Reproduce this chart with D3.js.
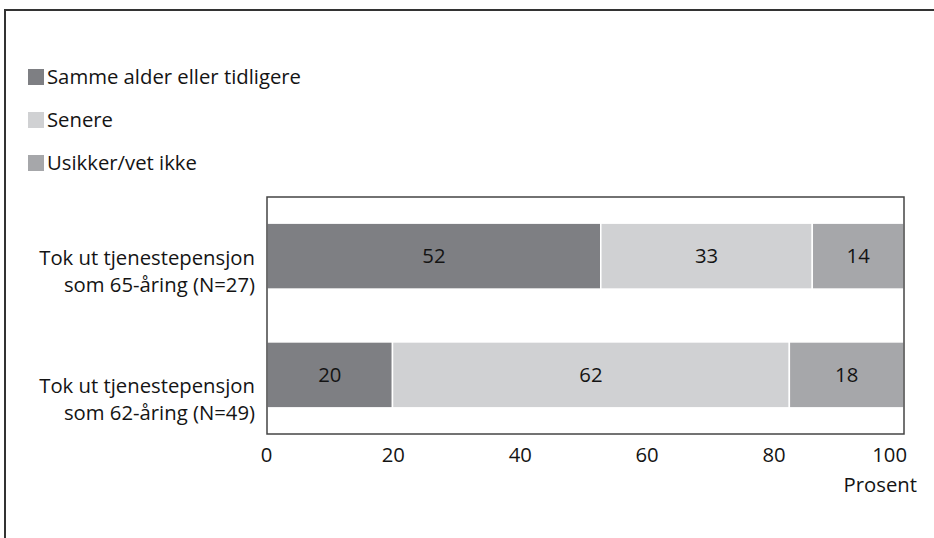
<!DOCTYPE html>
<html>
<head>
<meta charset="utf-8">
<script src="https://cdn.jsdelivr.net/npm/d3@7"></script>
<style>
  body { margin: 0; background: #fff; }
  text { font-family: "Open Sans", "Noto Sans", sans-serif; fill: #141414; }
</style>
</head>
<body>
<script>
var w = 934,
    h = 538,
    fs = "20.3px";

// data
var categories = ["Tok ut tjenestepensjon\nsom 65-åring (N=27)", "Tok ut tjenestepensjon\nsom 62-åring (N=49)"];
var seriesNames = ["Samme alder eller tidligere", "Senere", "Usikker/vet ikke"];
var samme = [52.4, 19.7];
var senere = [33.2, 62.3];
var usikker = [14.4, 18.0];
var ticks = [0, 20, 40, 60, 80, 100];
var colors = ["#7e7f83", "#d0d1d3", "#a6a7aa"];

var svg = d3.select("body").append("svg")
    .attr("width", w)
    .attr("height", h);

// outer frame (top + left only)
svg.append("path")
    .attr("d", "M5," + h + "V10H" + w)
    .attr("fill", "none")
    .attr("stroke", "#333")
    .attr("stroke-width", 2);

var pLeft = 267, pRight = 904, pTop = 197, pBottom = 434;

var x = d3.scaleLinear().domain([0, 100]).range([pLeft, pRight]);
var y = d3.scaleBand().domain(d3.range(categories.length))
    .range([pTop, pBottom]).paddingInner(0.445).paddingOuter(0.22);
// the row labels sit a bit lower and further apart than the bars
var yLab = d3.scalePoint().domain(d3.range(categories.length)).range([265, 393]);

// legend
var leg = svg.append("g").attr("transform", "translate(28,69)");
seriesNames.forEach(function(name, i){
  var row = leg.append("g").attr("transform", "translate(0," + (i * 43) + ")");
  row.append("rect").attr("width", 16).attr("height", 16).attr("fill", colors[i]);
  row.append("text").attr("x", 19).attr("y", 8).attr("dy", "0.36em")
    .style("font-size", fs).text(name);
});

// stacked bars
var rows = categories.map(function(c, i){
  return [samme[i], senere[i], usikker[i]];
});

rows.forEach(function(vals, i){
  var acc = 0;
  vals.forEach(function(v, k){
    var x0 = x(acc), x1 = x(acc + v);
    svg.append("rect")
      .attr("x", x0)
      .attr("y", y(i))
      .attr("width", x1 - x0)
      .attr("height", y.bandwidth())
      .attr("fill", colors[k])
      .attr("stroke", "#fff")
      .attr("stroke-width", 1.5);
    svg.append("text")
      .attr("x", (x0 + x1) / 2)
      .attr("y", y(i) + y.bandwidth() / 2)
      .attr("dy", "0.36em")
      .attr("text-anchor", "middle")
      .style("font-size", fs)
      .text(Math.round(v));
    acc += v;
  });
});

// plot frame
svg.append("rect")
  .attr("x", pLeft).attr("y", pTop)
  .attr("width", pRight - pLeft).attr("height", pBottom - pTop)
  .attr("fill", "none").attr("stroke", "#444").attr("stroke-width", 1.5);

// category labels
categories.forEach(function(c, i){
  var lines = c.split("\n");
  var t = svg.append("text")
    .attr("text-anchor", "end")
    .attr("y", yLab(i))
    .style("font-size", fs);
  lines.forEach(function(l, j){
    t.append("tspan").attr("x", 255)
      .attr("dy", j == 0 ? 0 : 26.5)
      .text(l);
  });
});

// x axis labels (tick text spacing is a touch tighter than the bars; last one is right-aligned)
var xLab = d3.scaleLinear().domain([0, 80]).range([266.5, 774]);
var ax = svg.append("g").attr("transform", "translate(0," + pBottom + ")");
ax.selectAll("text").data(ticks).enter().append("text")
  .attr("x", function(d){ return d == 100 ? pRight + 3 : xLab(d); })
  .attr("y", 28)
  .attr("text-anchor", function(d){ return d == 100 ? "end" : "middle"; })
  .style("font-size", fs)
  .text(function(d){ return d; });

svg.append("text")
  .attr("x", 917).attr("y", 492)
  .attr("text-anchor", "end")
  .style("font-size", fs)
  .text("Prosent");
</script>
</body>
</html>
